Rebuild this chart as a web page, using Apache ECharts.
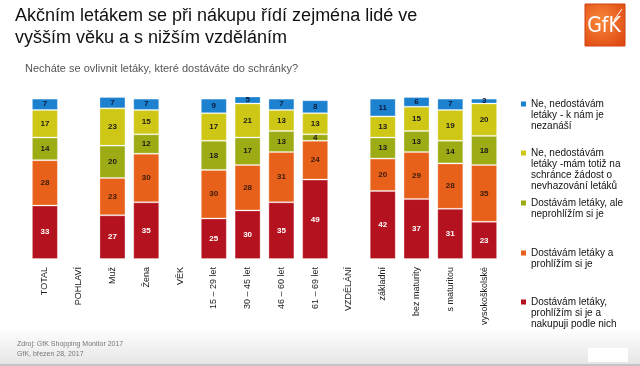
<!DOCTYPE html>
<html><head><meta charset="utf-8">
<script src="https://cdn.jsdelivr.net/npm/echarts@6/dist/echarts.min.js"></script>
<style>html,body{margin:0;padding:0;background:#fff}#c{width:640px;height:366px}</style>
</head><body><div id="c"></div>
<script>
const categories = ['TOTAL','POHLAVÍ','Muž','Žena','VĚK','15 – 29 let','30 – 45 let','46 – 60 let','61 – 69 let','VZDĚLÁNÍ','základní','bez maturity','s maturitou','vysokoškolské'];
// bottom to top
const buyValues    = [33,null,27,35,null,25,30,35,49,null,42,37,31,23];
const browseValues = [28,null,23,30,null,30,28,31,24,null,20,29,28,35];
const ignoreValues = [14,null,20,12,null,18,17,13,4,null,13,13,14,18];
const refuseValues = [17,null,23,15,null,17,21,13,13,null,13,15,19,20];
const noneValues   = [7,null,7,7,null,9,5,7,8,null,11,6,7,3];

const nameBuy = 'Dostávám letáky,\nprohlížím si je a\nnakupuji podle nich';
const nameBrowse = 'Dostávám letáky a\nprohlížím si je';
const nameIgnore = 'Dostávám letáky, ale\nneprohlížím si je';
const nameRefuse = 'Ne, nedostávám\nletáky -mám totiž na\nschránce žádost o\nnevhazování letáků';
const nameNone = 'Ne, nedostávám\nletáky - k nám je\nnezanáší';

const FONT = '"Liberation Sans", Arial, sans-serif';

function mkSeries(name, data, color, labelColor) {
  return {
    name: name, type: 'bar', stack: 'all', data: data, barWidth: 26,
    itemStyle: { color: color, borderColor: 'rgba(255,255,255,0.28)', borderWidth: 1 },
    label: { show: true, position: 'inside', fontSize: 8, fontWeight: 'bold', color: labelColor, fontFamily: FONT },
    emphasis: { disabled: true }
  };
}

const legendItems = [
  { name: nameNone, lines: 3, top: 98.5 },
  { name: nameRefuse, lines: 4, top: 147.5 },
  { name: nameIgnore, lines: 2, top: 197.5 },
  { name: nameBrowse, lines: 2, top: 247.5 },
  { name: nameBuy, lines: 3, top: 296.5 }
];
function iconPath(n) {
  const h = n * 11;
  return 'path://M0,3L5,3L5,8L0,8Z M0,0L0.01,0 M0,' + h + 'L0.01,' + h;
}

const chart = echarts.init(document.getElementById('c'), null, { renderer: 'canvas' });
chart.setOption({
  animation: false,
  textStyle: { fontFamily: FONT },
  title: [
    { text: 'Akčním letákem se při nákupu řídí zejména lidé ve\nvyšším věku a s nižším vzděláním', left: 15, top: 5, padding: 0,
      textStyle: { fontSize: 18, lineHeight: 22, fontWeight: 'normal', color: '#111', fontFamily: FONT } },
    { text: 'Necháte se ovlivnit letáky, které dostáváte do schránky?', left: 25, top: 63, padding: 0,
      textStyle: { fontSize: 11, fontWeight: 'normal', color: '#555', fontFamily: FONT } }
  ],
  legend: legendItems.map(it => ({
    data: [it.name], orient: 'vertical', left: 521, top: it.top, padding: 0,
    itemWidth: 5, itemHeight: it.lines * 11, icon: iconPath(it.lines),
    itemStyle: { borderWidth: 0 }, selectedMode: false,
    textStyle: { fontSize: 10, lineHeight: 11, color: '#111', fontFamily: FONT }
  })),
  grid: { left: 28, right: 139, top: 97, bottom: 107, containLabel: false },
  xAxis: {
    type: 'category', data: categories,
    axisLine: { show: false }, axisTick: { show: false },
    axisLabel: { interval: 0, rotate: 90, fontSize: 9, color: '#222', margin: 8, fontFamily: FONT }
  },
  yAxis: { type: 'value', min: 0, max: 100, show: false, splitLine: { show: false } },
  series: [
    mkSeries(nameBuy, buyValues, '#b5121f', '#ffffff'),
    mkSeries(nameBrowse, browseValues, '#e8611a', '#3a1a0a'),
    mkSeries(nameIgnore, ignoreValues, '#9dab14', '#1a1a1a'),
    mkSeries(nameRefuse, refuseValues, '#cfc716', '#1a1a1a'),
    mkSeries(nameNone, noneValues, '#1c82cf', '#0a1a3a')
  ],
  graphic: [
    { type: 'rect', z: -10, shape: { x: 0, y: 328, width: 640, height: 36 },
      style: { fill: new echarts.graphic.LinearGradient(0, 0, 0, 1, [{ offset: 0, color: '#ffffff' }, { offset: 1, color: '#e6e6e6' }]) } },
    { type: 'rect', z: -9, shape: { x: 0, y: 364, width: 640, height: 2 }, style: { fill: '#c4c4c4' } },
    { type: 'rect', z: -8, shape: { x: 588, y: 348, width: 40, height: 14 }, style: { fill: '#ffffff' } },
    { type: 'text', left: 17, top: 341, style: { text: 'Zdroj: GfK Shopping Monitor 2017', fill: '#777', font: '7px "Liberation Sans", Arial, sans-serif' } },
    { type: 'text', left: 17, top: 351, style: { text: 'GfK, březen 28, 2017', fill: '#777', font: '7px "Liberation Sans", Arial, sans-serif' } },
    { type: 'rect', shape: { x: 585, y: 4, width: 40, height: 42 },
      style: { fill: new echarts.graphic.RadialGradient(0.4, 0.4, 0.75, [{ offset: 0, color: '#f9883a' }, { offset: 1, color: '#de4a12' }]), stroke: '#d04010', lineWidth: 1 } },
    { type: 'text', x: 604, y: 27, style: { text: 'GfK', fill: '#fff', font: '21px "Liberation Sans Narrow", "DejaVu Sans Condensed", Arial, sans-serif', align: 'center', verticalAlign: 'middle' } },
    { type: 'line', shape: { x1: 614, y1: 20, x2: 622, y2: 9 }, style: { stroke: '#fff', lineWidth: 1 } }
  ]
});
</script></body></html>
